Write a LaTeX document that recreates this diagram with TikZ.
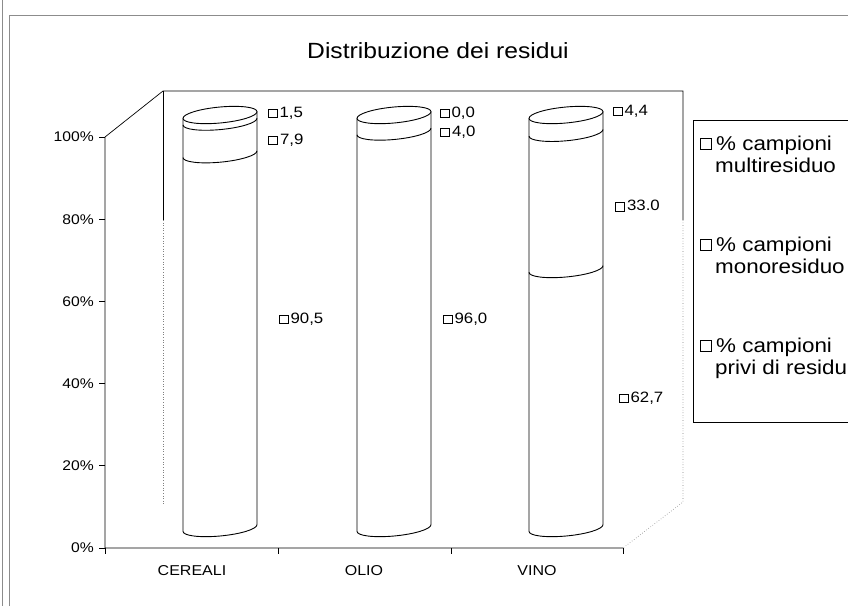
\documentclass[tikz,border=0pt]{standalone}
\usepackage{fontspec}
\setmainfont[FakeStretch=1.12]{Liberation Sans}
\def\sq{{\fboxsep=0pt\fboxrule=.7pt\fbox{\rule{0pt}{8pt}\hspace{8pt}}}\hspace{2pt}}
\def\sqb{{\fboxsep=0pt\fboxrule=1.2pt\fbox{\rule{0pt}{7.5pt}\hspace{7.5pt}}}\hspace{2pt}}
\usetikzlibrary{positioning}

\begin{document}
\begin{tikzpicture}[x=1pt,y=-1pt,
			frame/.style={draw=black!45,line width=.6pt},
			axis/.style={draw=black,line width=.7pt},
			wall/.style={draw=black!50,line width=.6pt,dotted},
			cyl/.style={draw=black,line width=.9pt,fill=white},
			band/.style={draw=black,line width=.9pt},
			title/.style={font=\fontsize{22}{24}\selectfont},
			ylab/.style={font=\fontsize{14}{16}\selectfont,anchor=east},
			xlab/.style={font=\fontsize{14.3}{16}\selectfont},
			val/.style={font=\fontsize{15}{17}\selectfont,anchor=west},
			leg/.style={font=\fontsize{20}{22}\selectfont,anchor=base west},
			legbox/.style={draw=black,line width=.8pt,minimum size=11pt},
			inner sep=0pt]
			\useasboundingbox (0,0) rectangle (848,606);
			\draw[frame] (2,0) -- (2,606);
			\draw[frame] (9,606) -- (9,15) -- (848,15);
			\node[title] (titolo) at (438,51) {Distribuzione dei residui};
			\coordinate (f0) at (105,548);
			\coordinate (f1) at (105,137);
			\coordinate (f3) at (623,548);
			\coordinate (b0) at (163,504);
			\coordinate (b1) at (163,91);
			\coordinate (b1m) at (163,220);
			\coordinate (b2) at (683,91);
			\coordinate (b2m) at (683,220);
			\coordinate (b3) at (683,502);
			\draw[axis] (f3) -- (f0) -- (f1) -- (b1) -- (b2) -- (b2m);
			\draw[axis] (b1) -- (b1m);
			\draw[wall] (b1m) -- (b0);
			\draw[wall] (b2m) -- (b3) -- (f3);
			\foreach \p in {0,20,...,100} {
				\coordinate (t\p) at (105,{548-4.11*\p});
				\draw[axis] (t\p) -- ++(-6,0);
				\node[ylab,left=11pt of t\p] (y\p) {\p\%};
			}
			\foreach \x [count=\i] in {105,278,451,623} {
				\coordinate (c\i) at (\x,548);
				\draw[axis] (c\i) -- ++(0,6);
			}
			\node[xlab] (cereali) at (192,571) {CEREALI};
			\node[xlab] (olio) at (364,571) {OLIO};
			\node[xlab] (vino) at (537,571) {VINO};
			\foreach \cx/\lev in {220/{154.2,121.6},394/{131.5},566/{269.0,132.8}} {
				\begin{scope}[shift={(\cx,0)},yslant=0.09]
					\filldraw[cyl] (-37,115) -- (-37,528) arc[start angle=180,end angle=0,x radius=37,y radius=8] -- (37,115);
					\filldraw[cyl] (0,115) ellipse[x radius=37,y radius=8];
					\foreach \y in \lev
						\draw[band] (-37,\y) arc[start angle=180,end angle=0,x radius=37,y radius=8];
				\end{scope}
			}
			\node[val] (v1) at (268,113) {\sq 1,5};
			\node[val] (v2) at (268,140) {\sqb 7,9};
			\node[val] (v3) at (279,319) {\sq 90,5};
			\node[val] (v4) at (440,113) {\sq 0,0};
			\node[val] (v5) at (440,132) {\sqb 4,0};
			\node[val] (v6) at (443,319) {\sq 96,0};
			\node[val] (v7) at (613,111) {\sq 4,4};
			\node[val] (v8) at (615,206) {\sqb 33.0};
			\node[val] (v9) at (619,398) {\sq 62,7};
			\coordinate (g0) at (848,120);
			\coordinate (g1) at (693,120);
			\coordinate (g2) at (693,422);
			\coordinate (g3) at (848,422);
			\draw[axis] (g0) -- (g1) -- (g2) -- (g3);
			\node[legbox] (k1) at (706,144) {};
			\node[leg] (e1a) at (716,150) {\% campioni};
			\node[leg] (e1b) at (715,172) {multiresiduo};
			\node[legbox,line width=1.3pt] (k2) at (706,245) {};
			\node[leg] (e2a) at (716,251) {\% campioni};
			\node[leg] (e2b) at (715,273) {monoresiduo};
			\node[legbox] (k3) at (706,346) {};
			\node[leg] (e3a) at (716,352) {\% campioni};
			\node[leg] (e3b) at (715,374) {privi di residu};
		\end{tikzpicture}
\end{document}
